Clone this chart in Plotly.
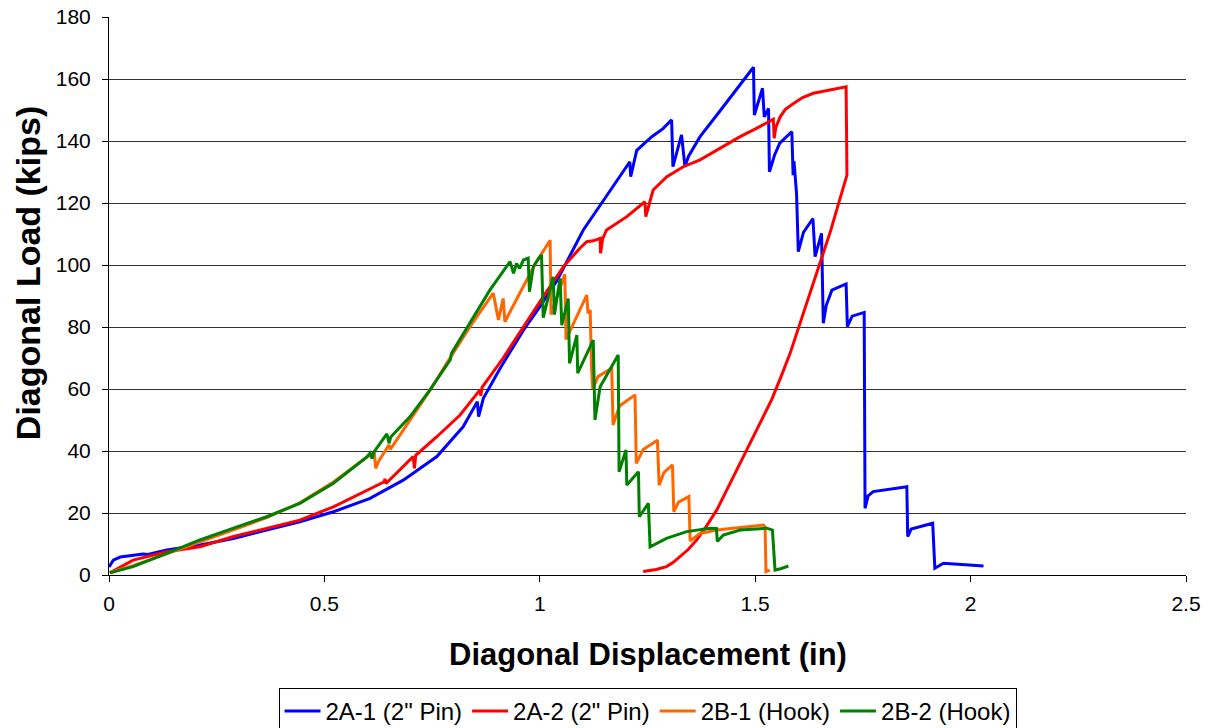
import plotly.graph_objects as go

# ---- data (Diagonal Displacement in inches, Diagonal Load in kips) ----
a1_x = [0.000, 0.010, 0.026, 0.050, 0.079, 0.090, 0.134, 0.211, 0.289, 0.366, 0.443, 0.521,
        0.606, 0.683, 0.761, 0.822, 0.855, 0.858, 0.869, 0.908, 0.962, 1.000, 1.040, 1.101,
        1.140, 1.175, 1.209, 1.211, 1.225, 1.260, 1.286, 1.306, 1.309, 1.329, 1.337, 1.345,
        1.372, 1.411, 1.449, 1.496, 1.498, 1.517, 1.521, 1.531, 1.533, 1.545, 1.557, 1.585,
        1.588, 1.590, 1.592, 1.596, 1.600, 1.612, 1.634, 1.639, 1.654, 1.658, 1.665, 1.678,
        1.711, 1.714, 1.725, 1.753, 1.755, 1.762, 1.774, 1.852, 1.854, 1.862, 1.912, 1.917,
        1.937, 2.030]
a1_y = [2.6, 4.8, 5.8, 6.3, 6.8, 6.6, 8.1, 9.7, 11.8, 14.5, 17.2, 20.4,
        24.7, 30.6, 38.2, 47.8, 55.9, 51.1, 57.0, 66.7, 79.0, 86.5, 95.0, 111.3,
        119.4, 126.5, 133.3, 128.5, 137.0, 141.4, 144.0, 146.8, 131.7, 142.0, 131.7, 135.0,
        141.4, 148.4, 155.4, 163.8, 148.4, 157.0, 147.8, 150.5, 130.1, 135.5, 139.3, 143.0,
        129.0, 133.5, 130.0, 123.0, 104.3, 110.5, 115.0, 102.7, 110.2, 81.2, 87.0, 91.9,
        93.9, 80.1, 83.5, 84.7, 21.5, 25.5, 26.9, 28.5, 12.4, 14.8, 16.7, 2.2,
        3.8, 2.9]

a2_x = [0.002, 0.056, 0.134, 0.211, 0.289, 0.366, 0.443, 0.521, 0.606, 0.638, 0.641, 0.643,
        0.706, 0.709, 0.712, 0.761, 0.815, 0.861, 0.863, 0.866, 0.915, 0.962, 1.008, 1.055,
        1.093, 1.109, 1.124, 1.140, 1.141, 1.146, 1.155, 1.202, 1.244, 1.246, 1.263, 1.295,
        1.333, 1.372, 1.411, 1.465, 1.503, 1.542, 1.544, 1.548, 1.558, 1.570, 1.589, 1.610,
        1.635, 1.660, 1.681, 1.711, 1.713, 1.700, 1.689, 1.675, 1.658, 1.635, 1.612, 1.597,
        1.581, 1.560, 1.538, 1.513, 1.488, 1.468, 1.449, 1.430, 1.411, 1.388, 1.364, 1.345,
        1.325, 1.310, 1.294, 1.270, 1.240]
a2_y = [0.7, 4.8, 7.5, 9.1, 12.4, 15.1, 17.7, 22.0, 28.0, 30.0, 31.0, 29.5,
        38.2, 34.4, 38.6, 44.6, 51.6, 59.7, 57.8, 60.5, 70.0, 80.1, 89.8, 99.5,
        105.4, 107.5, 107.8, 108.6, 103.8, 108.5, 111.3, 115.6, 120.4, 115.6, 124.2, 128.5,
        131.7, 133.9, 137.1, 141.4, 144.1, 147.0, 140.9, 144.5, 147.8, 150.2, 152.1, 154.0,
        155.4, 156.1, 156.5, 157.5, 129.0, 122.5, 117.7, 111.0, 103.8, 94.0, 84.4, 78.0,
        71.5, 64.0, 56.5, 49.5, 42.5, 37.0, 31.7, 26.0, 21.0, 16.0, 11.3, 8.3,
        5.9, 4.1, 2.7, 1.8, 1.1]

b1_x = [0.002, 0.056, 0.134, 0.211, 0.289, 0.366, 0.443, 0.521, 0.598, 0.616, 0.619, 0.625,
        0.650, 0.653, 0.706, 0.745, 0.784, 0.838, 0.892, 0.904, 0.915, 0.919, 0.950, 0.990,
        1.024, 1.026, 1.058, 1.061, 1.109, 1.112, 1.117, 1.120, 1.123, 1.135, 1.167, 1.170,
        1.185, 1.221, 1.224, 1.240, 1.273, 1.277, 1.288, 1.308, 1.311, 1.322, 1.346, 1.349,
        1.372, 1.411, 1.465, 1.519, 1.523, 1.525, 1.534]
b1_y = [0.8, 3.0, 6.8, 10.8, 14.6, 18.5, 23.3, 30.0, 38.0, 39.5, 34.4, 36.5,
        42.0, 40.5, 51.5, 59.5, 68.3, 80.1, 90.9, 82.3, 89.2, 81.7, 90.0, 100.5,
        108.0, 84.0, 97.0, 76.0, 90.3, 84.4, 85.5, 67.0, 60.0, 64.0, 66.7, 48.4,
        54.5, 58.1, 36.0, 40.5, 43.5, 29.0, 33.0, 35.5, 20.4, 23.5, 25.3, 11.0,
        13.4, 14.5, 15.3, 16.1, 15.5, 1.1, 1.6]

b2_x = [0.002, 0.056, 0.134, 0.211, 0.289, 0.366, 0.443, 0.521, 0.598, 0.606, 0.611, 0.614,
        0.645, 0.650, 0.654, 0.699, 0.745, 0.792, 0.795, 0.838, 0.884, 0.931, 0.939, 0.946,
        0.953, 0.962, 0.973, 0.976, 0.985, 1.000, 1.004, 1.008, 1.031, 1.034, 1.047, 1.051,
        1.066, 1.069, 1.086, 1.088, 1.124, 1.128, 1.140, 1.182, 1.184, 1.200, 1.202, 1.229,
        1.231, 1.252, 1.256, 1.294, 1.341, 1.395, 1.410, 1.412, 1.426, 1.465, 1.527, 1.540,
        1.543, 1.546, 1.561, 1.577]
b2_y = [0.7, 2.7, 7.0, 11.3, 15.1, 18.8, 23.1, 29.6, 38.0, 39.3, 37.5, 39.5,
        45.5, 42.5, 44.5, 51.1, 59.7, 69.4, 71.5, 81.2, 91.9, 101.1, 97.3, 100.5,
        98.9, 101.6, 102.2, 91.4, 99.5, 102.7, 103.2, 83.0, 96.2, 84.0, 95.7, 80.6,
        89.2, 68.3, 77.4, 65.1, 75.8, 50.0, 60.7, 71.0, 33.3, 40.3, 29.0, 33.3,
        18.8, 23.1, 9.1, 11.8, 14.0, 15.1, 15.0, 10.8, 12.9, 14.5, 15.1, 14.5,
        8.0, 1.6, 2.1, 2.9]

series_names = ['2A-1 (2" Pin)', '2A-2 (2" Pin)', '2B-1 (Hook)', '2B-2 (Hook)']
x_ticks = [0, 0.5, 1, 1.5, 2, 2.5]
x_tick_text = ["0", "0.5", "1", "1.5", "2", "2.5"]
y_ticks = [0, 20, 40, 60, 80, 100, 120, 140, 160, 180]

colors = ["#0000FF", "#FF0000", "#FF6600", "#008000"]
FONT = "Liberation Sans, Arial, sans-serif"

fig = go.Figure()
for xs, ys, name, c in zip([a1_x, a2_x, b1_x, b2_x], [a1_y, a2_y, b1_y, b2_y], series_names, colors):
    fig.add_trace(go.Scatter(x=xs, y=ys, mode="lines", name=name,
                             line=dict(color=c, width=3)))

fig.update_layout(
    width=1212, height=728,
    margin=dict(l=109, r=26, t=17, b=153, autoexpand=False),
    paper_bgcolor="white", plot_bgcolor="white",
    font=dict(family=FONT, color="black", size=21),
    showlegend=True,
    legend=dict(orientation="h", x=0.5, xanchor="center", y=-0.2025, yanchor="top",
                bordercolor="black", borderwidth=1, font=dict(size=24, family=FONT),
                traceorder="normal", itemwidth=36),
    annotations=[
        dict(text="<b>Diagonal Displacement (in)</b>", xref="paper", yref="paper",
             x=0.5, y=-0.1416, xanchor="center", yanchor="middle", showarrow=False,
             font=dict(size=31, family=FONT)),
        dict(text="<b>Diagonal Load (kips)</b>", xref="paper", yref="paper",
             x=-0.0752, y=0.541, xanchor="center", yanchor="middle", textangle=-90,
             showarrow=False, font=dict(size=34, family=FONT)),
    ],
)
fig.update_xaxes(range=[0, 2.5], tickvals=x_ticks, ticktext=x_tick_text,
                 showgrid=False, zeroline=False, showline=True, linecolor="black", linewidth=1,
                 ticks="outside", ticklen=6, tickcolor="black", ticklabelstandoff=4,
                 ticklabeloverflow="allow",
                 tickfont=dict(size=21, family=FONT))
fig.update_yaxes(range=[0, 180], tickvals=y_ticks,
                 showgrid=True, gridcolor="#333333", gridwidth=1,
                 zeroline=False, showline=True, linecolor="black", linewidth=1,
                 ticks="outside", ticklen=6, tickcolor="black", ticklabelstandoff=7,
                 ticklabeloverflow="allow",
                 tickfont=dict(size=21, family=FONT))

fig.write_html("out.html", config={"displayModeBar": False},
               post_script="document.body.style.margin='0px';")
